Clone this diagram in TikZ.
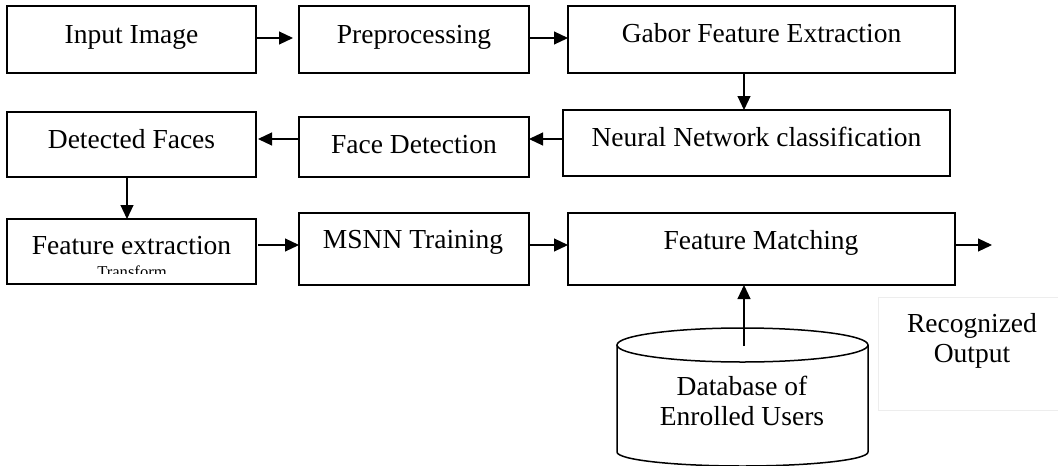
\documentclass[tikz,border=0pt]{standalone}
\usepackage{fontspec}
\setmainfont{Liberation Serif}
\usetikzlibrary{arrows.meta}
\tikzset{
  box/.style={draw, line width=1.5pt, anchor=north west, inner sep=0pt, outer sep=0pt},
  lbl/.style={anchor=base, inner sep=0pt, font=\fontsize{27.5}{30}\selectfont},
  small/.style={anchor=base, inner sep=0pt, font=\fontsize{16.6}{18}\selectfont},
  arr/.style={line width=1.1pt, -{Triangle[length=14pt,width=13pt]}},
}
\begin{document}
\begin{tikzpicture}[x=1pt,y=-1pt]
\useasboundingbox (0,0) rectangle (1058,466);
\clip (0,0) rectangle (1058,466);
\fill[white] (0,0) rectangle (1058,466);

% row 1
\node[box, minimum width=249pt, minimum height=67pt] (in) at (7,6) {};
\node[box, minimum width=230pt, minimum height=67pt] (pre) at (299,6) {};
\node[box, minimum width=387pt, minimum height=67pt] (gab) at (568,6) {};
\node[lbl] (tin) at (131.5,43) {Input Image};
\node[lbl] (tpre) at (414,43) {Preprocessing};
\node[lbl] (tgab) at (761.5,42) {Gabor Feature Extraction};

% row 2
\node[box, minimum width=249pt, minimum height=65pt] (df) at (7,112) {};
\node[box, minimum width=230pt, minimum height=60pt] (fd) at (299,117) {};
\node[box, minimum width=387pt, minimum height=66pt] (nn) at (563,110) {};
\node[lbl] (tdf) at (131.5,148) {Detected Faces};
\node[lbl] (tfd) at (414,153) {Face Detection};
\node[lbl] (tnn) at (756.5,146) {Neural Network classification};

% row 3
\node[box, minimum width=249pt, minimum height=65pt] (fe) at (7,219) {};
\node[box, minimum width=230pt, minimum height=72pt] (ms) at (299,213) {};
\node[box, minimum width=387pt, minimum height=72pt] (fm) at (568,213) {};
\node[lbl] (tfe) at (131.5,254) {Feature extraction};
\begin{scope}
  \clip (9,221) rectangle (254,273);
  \node[small] (ttr) at (132,277) {Transform};
\end{scope}
\node[lbl] (tms) at (413,248) {MSNN Training};
\node[lbl] (tfm) at (761,249) {Feature Matching};

% database cylinder
\draw[line width=1.5pt] (617,345) -- (617,452)
  arc[start angle=180, end angle=360, x radius=125.5pt, y radius=14pt] -- (868,345);
\draw[line width=1.5pt] (742.5,345) ellipse [x radius=125.5pt, y radius=17pt];
\coordinate (dbtop) at (744,346);
\node[lbl] (tdb1) at (742,395) {Database of};
\node[lbl] (tdb2) at (742,425) {Enrolled Users};

% recognized output
\node[box, draw=black!7, line width=0.8pt, minimum width=190pt, minimum height=113pt] (rbox) at (878,297) {};
\node[lbl] (tr1) at (972,332) {Recognized};
\node[lbl] (tr2) at (972,362) {Output};
\coordinate (outend) at (992,245);

% connectors
\draw[arr, shorten >=6pt] (in.east |- 0,38) -- (pre.west |- 0,38);
\draw[arr] (pre.east |- 0,38) -- (gab.west |- 0,38);
\draw[arr] (gab.south -| 744,0) -- (nn.north -| 744,0);
\draw[arr] (nn.west |- 0,139) -- (fd.east |- 0,139);
\draw[arr, shorten >=2pt] (fd.west |- 0,139) -- (df.east |- 0,139);
\draw[arr] (df.south -| 127,0) -- (fe.north -| 127,0);
\draw[arr, shorten <=2pt] (fe.east |- 0,245) -- (ms.west |- 0,245);
\draw[arr] (ms.east |- 0,245) -- (fm.west |- 0,245);
\draw[arr] (fm.east |- 0,245) -- (outend);
\draw[arr] (dbtop) -- (fm.south -| dbtop);
\end{tikzpicture}
\end{document}
